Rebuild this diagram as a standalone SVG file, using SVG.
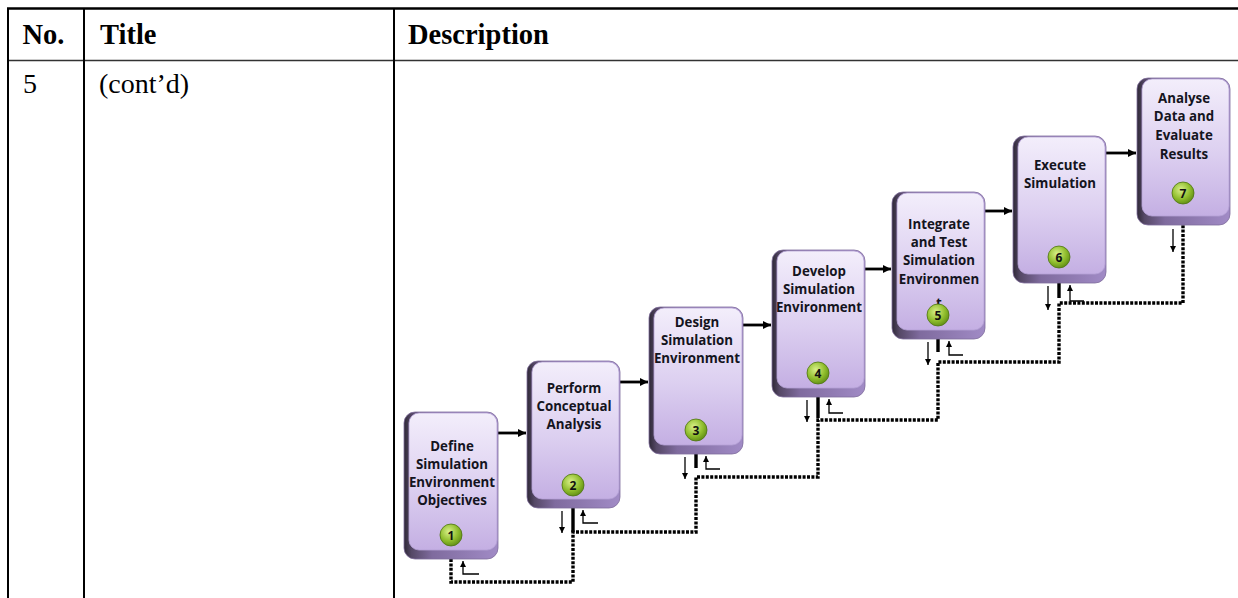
<svg xmlns="http://www.w3.org/2000/svg" width="1238" height="598" viewBox="0 0 1238 598">
<defs>
<linearGradient id="face" x1="0" y1="0" x2="0" y2="1">
<stop offset="0" stop-color="#f3eefb"/>
<stop offset="0.55" stop-color="#dccff0"/>
<stop offset="1" stop-color="#c4afe3"/>
</linearGradient>
<linearGradient id="edge" x1="0" y1="0" x2="1" y2="0">
<stop offset="0" stop-color="#2e2836"/>
<stop offset="0.08" stop-color="#554866"/>
<stop offset="0.3" stop-color="#7f6b9e"/>
<stop offset="1" stop-color="#a18bc6"/>
</linearGradient>
<radialGradient id="ball" cx="0.4" cy="0.35" r="0.7">
<stop offset="0" stop-color="#d9f08a"/>
<stop offset="0.6" stop-color="#8fbd2c"/>
<stop offset="1" stop-color="#5d8a14"/>
</radialGradient>
<marker id="ah" viewBox="0 0 8 8" refX="8" refY="4" markerWidth="9" markerHeight="8" markerUnits="userSpaceOnUse" orient="auto">
<path d="M0,0 L8,4 L0,8 z" fill="#000"/>
</marker>
<marker id="sh" viewBox="0 0 6 6" refX="6" refY="3" markerWidth="6" markerHeight="6" markerUnits="userSpaceOnUse" orient="auto">
<path d="M0,0 L6,3 L0,6 z" fill="#000"/>
</marker>
</defs>
<style>
.tl{stroke:#000;stroke-width:2;fill:none}
.hd{font-family:"Liberation Serif","Times New Roman",serif;font-size:28.5px;font-weight:bold;fill:#000}
.bd{font-family:"Liberation Serif","Times New Roman",serif;font-size:28px;fill:#000}
.shadow{fill:url(#edge);stroke:#7f6c9c;stroke-width:0.8}
.fc{fill:url(#face);stroke:#b5a2d6;stroke-width:0.8}
.lb{font-family:"Open Sans","Liberation Sans",sans-serif;font-size:13.3px;font-weight:bold;fill:#141420;text-anchor:middle}
.ball{fill:url(#ball);stroke:#4c7410;stroke-width:0.8}
.num{font-family:"Open Sans","Liberation Sans",sans-serif;font-size:12px;font-weight:bold;fill:#111;text-anchor:middle}
.flow{stroke:#000;stroke-width:2.8;fill:none;marker-end:url(#ah)}
.dot{stroke:#000;stroke-width:3.4;fill:none;stroke-dasharray:3 1.4}
.sol{stroke:#000;stroke-width:3.4;fill:none}
.thin{stroke:#000;stroke-width:1.3;fill:none;marker-end:url(#sh)}
</style>
<rect width="1238" height="598" fill="#fff"/>
<g id="table">
<line x1="7" y1="8.5" x2="1238" y2="8.5" stroke="#000" stroke-width="2.6"/>
<line x1="8" y1="60.5" x2="1238" y2="60.5" stroke="#333" stroke-width="1.6"/>
<line class="tl" x1="8" y1="8" x2="8" y2="598"/>
<line class="tl" x1="84" y1="8" x2="84" y2="598"/>
<line class="tl" x1="394" y1="8" x2="394" y2="598"/>
<text class="hd" x="22.5" y="44">No.</text>
<text class="hd" x="100" y="44">Title</text>
<text class="hd" x="408" y="44">Description</text>
<text class="bd" x="23" y="93">5</text>
<text class="bd" x="99" y="93">(cont’d)</text>
</g>
<g id="connectors">
<path class="flow" d="M498,433 H526"/>
<path class="flow" d="M619,382 H648"/>
<path class="flow" d="M743,325 H771"/>
<path class="flow" d="M865,269 H891"/>
<path class="flow" d="M984,211 H1012"/>
<path class="flow" d="M1105,153 H1136"/>
<path class="dot" d="M451,559 V582 H573 V532 H696 V477 H818 V420 H938 V362 H1059 V303 H1183 V225"/>
<path class="sol" d="M573,507 V532 M696,453 V468 M818,396 V418 M938,338 V352 M1059,282 V298"/>
<path class="thin" d="M562,511 V533"/>
<path class="thin" d="M685,457 V479"/>
<path class="thin" d="M807,400 V422"/>
<path class="thin" d="M928,342 V365"/>
<path class="thin" d="M1048,286 V310"/>
<path class="thin" d="M1173,229 V252"/>
<path class="thin" d="M479,574 H463 V561"/>
<path class="thin" d="M598,523 H583 V510"/>
<path class="thin" d="M720,469 H706 V456"/>
<path class="thin" d="M843,413 H829 V399"/>
<path class="thin" d="M963,355 H949 V341"/>
<path class="thin" d="M1084,301 H1070 V285"/>
</g>
<g id="n1">
<rect class="shadow" x="404" y="412" width="94" height="147" rx="11"/>
<rect class="fc" x="409" y="413" width="88" height="137" rx="10"/>
<text class="lb" x="452" y="451">Define</text>
<text class="lb" x="452" y="469">Simulation</text>
<text class="lb" x="452" y="487">Environment</text>
<text class="lb" x="452" y="505">Objectives</text>
<circle class="ball" cx="451" cy="535" r="11"/>
<text class="num" x="451" y="539.5">1</text>
</g>
<g id="n2">
<rect class="shadow" x="527" y="361" width="93" height="147" rx="11"/>
<rect class="fc" x="532" y="362" width="87" height="137" rx="10"/>
<text class="lb" x="574" y="393">Perform</text>
<text class="lb" x="574" y="411">Conceptual</text>
<text class="lb" x="574" y="429">Analysis</text>
<circle class="ball" cx="573" cy="485" r="11"/>
<text class="num" x="573" y="489.5">2</text>
</g>
<g id="n3">
<rect class="shadow" x="649" y="307" width="94" height="147" rx="11"/>
<rect class="fc" x="654" y="308" width="88" height="137" rx="10"/>
<text class="lb" x="697" y="327">Design</text>
<text class="lb" x="697" y="345">Simulation</text>
<text class="lb" x="697" y="363">Environment</text>
<circle class="ball" cx="696" cy="430" r="11"/>
<text class="num" x="696" y="434.5">3</text>
</g>
<g id="n4">
<rect class="shadow" x="772" y="250" width="93" height="147" rx="11"/>
<rect class="fc" x="777" y="251" width="87" height="137" rx="10"/>
<text class="lb" x="819" y="276">Develop</text>
<text class="lb" x="819" y="294">Simulation</text>
<text class="lb" x="819" y="312">Environment</text>
<circle class="ball" cx="818" cy="373" r="11"/>
<text class="num" x="818" y="377.5">4</text>
</g>
<g id="n5">
<rect class="shadow" x="892" y="192" width="93" height="147" rx="11"/>
<rect class="fc" x="897" y="193" width="87" height="137" rx="10"/>
<text class="lb" x="939" y="229">Integrate</text>
<text class="lb" x="939" y="247">and Test</text>
<text class="lb" x="939" y="265">Simulation</text>
<text class="lb" x="939" y="284">Environmen</text>
<text class="lb" x="939" y="308">t</text>
<circle class="ball" cx="938" cy="315" r="11"/>
<text class="num" x="938" y="319.5">5</text>
</g>
<g id="n6">
<rect class="shadow" x="1013" y="136" width="93" height="147" rx="11"/>
<rect class="fc" x="1018" y="137" width="87" height="137" rx="10"/>
<text class="lb" x="1060" y="170">Execute</text>
<text class="lb" x="1060" y="188">Simulation</text>
<circle class="ball" cx="1059" cy="257" r="11"/>
<text class="num" x="1059" y="261.5">6</text>
</g>
<g id="n7">
<rect class="shadow" x="1137" y="78" width="93" height="147" rx="11"/>
<rect class="fc" x="1142" y="79" width="87" height="137" rx="10"/>
<text class="lb" x="1184" y="103">Analyse</text>
<text class="lb" x="1184" y="121">Data and</text>
<text class="lb" x="1184" y="140">Evaluate</text>
<text class="lb" x="1184" y="159">Results</text>
<circle class="ball" cx="1183" cy="193" r="11"/>
<text class="num" x="1183" y="197.5">7</text>
</g>
</svg>
